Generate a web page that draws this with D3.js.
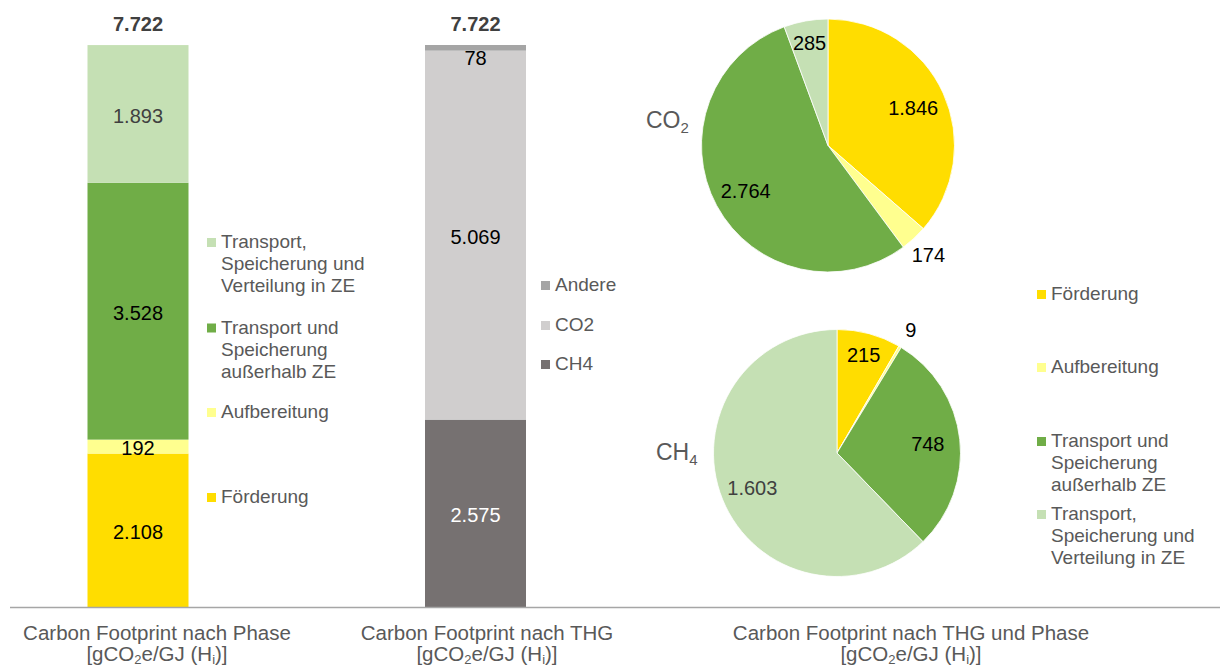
<!DOCTYPE html>
<html><head><meta charset="utf-8">
<script src="https://cdn.jsdelivr.net/npm/d3@7"></script>
<style>
html,body{margin:0;padding:0;background:#fff;}
svg{display:block;font-family:"Liberation Sans",Arial,sans-serif;}
</style></head>
<body><svg id="c" width="1222" height="667"></svg>
<script>
// ---- data ----
const phases = ["Förderung", "Aufbereitung", "Transport und Speicherung außerhalb ZE", "Transport, Speicherung und Verteilung in ZE"];
const phaseLegendLines = [["Förderung"], ["Aufbereitung"], ["Transport und", "Speicherung", "außerhalb ZE"], ["Transport,", "Speicherung und", "Verteilung in ZE"]];
const phaseValues = [2108, 192, 3528, 1893];
const ghgNames = ["CH4", "CO2", "Andere"];
const ghgValues = [2575, 5069, 78];
const totals = [7722, 7722];
const co2PhaseValues = [1846, 174, 2764, 285];
const ch4PhaseValues = [215, 9, 748, 1603];
const categories = ["Carbon Footprint nach Phase", "Carbon Footprint nach THG", "Carbon Footprint nach THG und Phase"];

// ---- styles ----
const phaseColors = ["#FFDD00", "#FFFF8F", "#70AD47", "#C5E0B4"];
const phaseLabelColors = ["#000", "#000", "#000", "#404040"];
const ghgColors = ["#767171", "#D0CECE", "#A5A5A5"];
const ghgLabelColors = ["#fff", "#000", "#000"];
const textGrey = "#595959";

const fmt = d3.formatLocale({decimal: ",", thousands: ".", grouping: [3], currency: ["", "€"]}).format(",d");
const svg = d3.select("#c");

// scales
const y = d3.scaleLinear().domain([0, 7722]).range([607, 45]);
const x = d3.scalePoint().domain(["phase", "ghg"]).range([138, 475.5]);
const barW = 101;

function stack(values) {
  let acc = 0;
  return values.map((v, i) => { const s = acc; acc += v; return {i, v, y0: s, y1: acc}; });
}

function drawBar(key, values, colors, labelColors) {
  const g = svg.append("g");
  const segs = stack(values);
  g.selectAll("rect").data(segs).join("rect")
    .attr("x", x(key) - barW / 2).attr("width", barW)
    .attr("y", d => y(d.y1)).attr("height", d => y(d.y0) - y(d.y1))
    .attr("fill", d => colors[d.i]);
  g.selectAll("text").data(segs).join("text")
    .attr("x", x(key))
    .attr("y", d => {
      const h = y(d.y0) - y(d.y1);
      if (h < 20) return d.i === segs.length - 1 ? y(d.y0) + 14 : y(d.y0) + 1;
      return (y(d.y0) + y(d.y1)) / 2 + 9;
    })
    .attr("text-anchor", "middle").attr("font-size", 20)
    .attr("fill", d => labelColors[d.i])
    .text(d => fmt(d.v));
}
drawBar("phase", phaseValues, phaseColors, phaseLabelColors);
drawBar("ghg", ghgValues, ghgColors, ghgLabelColors);

// totals
svg.selectAll("text.total").data(totals).join("text").attr("class", "total")
  .attr("x", (d, i) => x(["phase", "ghg"][i])).attr("y", 31)
  .attr("text-anchor", "middle").attr("font-size", 20).attr("font-weight", "bold")
  .attr("fill", "#404040").text(d => fmt(d));

// axis line
svg.append("line").attr("x1", 10).attr("x2", 1220).attr("y1", 607.5).attr("y2", 607.5)
  .attr("stroke", "#A6A6A6").attr("stroke-width", 1.5);

// legends
function legend(items, xSq, baselines, lineH) {
  const g = svg.append("g");
  items.forEach((it, k) => {
    const b = baselines[k];
    g.append("rect").attr("x", xSq).attr("y", b - 10).attr("width", 9).attr("height", 9).attr("fill", it.color);
    const t = g.append("text").attr("x", xSq + 14).attr("y", b).attr("font-size", 19).attr("fill", textGrey);
    it.lines.forEach((l, j) => t.append("tspan").attr("x", xSq + 14).attr("y", b + j * lineH).text(l));
  });
}
const phaseItems = phases.map((p, i) => ({lines: phaseLegendLines[i], color: phaseColors[i]}));
legend(phaseItems.slice().reverse(), 207, [248, 333.5, 418, 503], 22);
legend(ghgNames.map((n, i) => ({lines: [n], color: ghgColors[i]})).reverse(), 541, [291, 331, 370], 22);
legend(phaseItems, 1037, [300, 373, 447, 520], 22);

// pies
function drawPie(values, cx, cy, r, name, sub, lx, ly) {
  const pieGen = d3.pie().sort(null).value(d => d.v);
  const arcsData = pieGen(values.map((v, i) => ({v, i})));
  const arc = d3.arc().innerRadius(0).outerRadius(r);
  const g = svg.append("g").attr("transform", `translate(${cx},${cy})`);
  g.selectAll("path").data(arcsData).join("path")
    .attr("d", arc).attr("fill", d => phaseColors[d.data.i])
    .attr("stroke", "#fff").attr("stroke-width", 0.8);
  g.selectAll("text").data(arcsData).join("text")
    .each(function(d) {
      const span = (d.endAngle - d.startAngle) * 180 / Math.PI;
      const rr = span < 15 ? r * 1.17 : (span < 35 ? r * 0.83 : r * 0.74);
      const a = (d.startAngle + d.endAngle) / 2;
      d3.select(this).attr("x", Math.sin(a) * rr).attr("y", -Math.cos(a) * rr + 8);
    })
    .attr("text-anchor", "middle").attr("font-size", 20)
    .attr("fill", d => d.data.i === 3 && (d.endAngle - d.startAngle) > 2 ? "#404040" : "#000")
    .text(d => fmt(d.data.v));
  const t = svg.append("text").attr("x", lx).attr("y", ly).attr("font-size", 23).attr("fill", textGrey);
  t.append("tspan").text(name);
  t.append("tspan").attr("font-size", 15).attr("dy", 5).text(sub);
}
drawPie(co2PhaseValues, 828, 145.5, 126.5, "CO", "2", 646, 128);
drawPie(ch4PhaseValues, 837, 453, 123.5, "CH", "4", 656, 460);

// category labels
const catX = [157, 487, 911];
categories.forEach((c, i) => {
  svg.append("text").attr("text-anchor", "middle").attr("font-size", 20.5).attr("fill", textGrey)
    .attr("x", catX[i]).attr("y", 640).text(c);
  const t2 = svg.append("text").attr("text-anchor", "middle").attr("font-size", 20.5).attr("fill", textGrey)
    .attr("x", catX[i]).attr("y", 661);
  t2.append("tspan").text("[gCO");
  t2.append("tspan").attr("font-size", 13).attr("dy", 3).text("2");
  t2.append("tspan").attr("dy", -3).text("e/GJ (H");
  t2.append("tspan").attr("font-size", 13).attr("dy", 3).text("i");
  t2.append("tspan").attr("dy", -3).text(")]");
});
</script></body></html>
